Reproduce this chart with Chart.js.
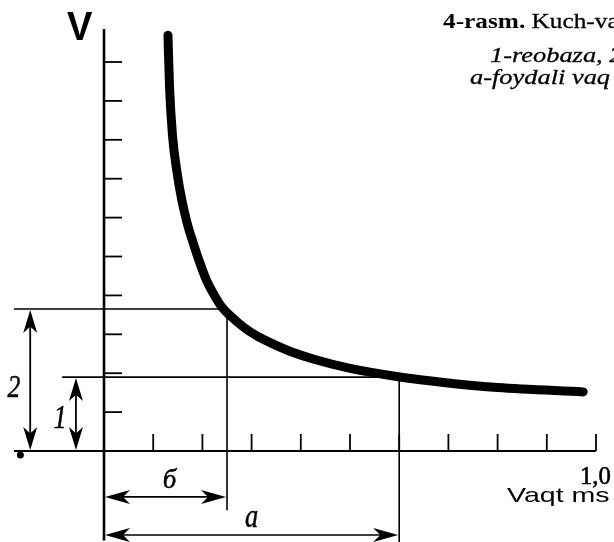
<!DOCTYPE html>
<html><head><meta charset="utf-8">
<script src="https://cdn.jsdelivr.net/npm/chart.js@4"></script>
<style>html,body{margin:0;padding:0;background:#fff;overflow:hidden}#wrap{width:614px;height:542px;position:relative}</style>
</head><body><div id="wrap"><canvas id="c" width="614" height="542"></canvas></div>
<script>
// ---- data ----
const timeMs  = [0.130, 0.133, 0.139, 0.149, 0.158, 0.169, 0.182, 0.195, 0.208, 0.224, 0.239, 0.259, 0.282, 0.309, 0.342, 0.379, 0.427, 0.498, 0.598, 0.699, 0.800, 0.974];
const voltage = [10.69, 9.42, 8.14, 7.12, 6.46, 5.86, 5.32, 4.83, 4.40, 4.01, 3.71, 3.45, 3.20, 2.97, 2.76, 2.56, 2.36, 2.13, 1.91, 1.75, 1.63, 1.52];
const xTickValues = [0.1, 0.2, 0.3, 0.4, 0.5, 0.6, 0.7, 0.8, 0.9, 1.0];
const yTickValues = [1, 2, 3, 4, 5, 6, 7, 8, 9, 10];
const xEndLabel = '1,0';
const rheobase = 1.9;          // level 1
const doubleRheobase = 3.65;   // level 2
const chronaxie = 0.25;        // б
const usefulTime = 0.6;        // a

// ---- layout (data-space extents of the drawing) ----
const geom = {
  xMin: -0.2114, xMax: 1.0366, yMin: -2.339, yMax: 11.594,
  yAxisTop: 10.85, yAxisBottom: -2.30, xAxisLeft: -0.183, xAxisRight: 1.0,
  line2Left: -0.183, line2Right: 0.234, line1Left: -0.085,
  chronTop: 3.5, chronBottom: -1.52, usefulBottom: -2.34,
  arrowB_y: -1.18, arrowA_y: -2.16, arrow2_x: -0.150, arrow1_x: -0.057
};

const pts = timeMs.map((t, i) => ({x: t, y: voltage[i]}));

function head(ctx, tx, ty, dx, dy, L, W) {
  const bx = tx - dx * L, by = ty - dy * L;
  const nx = -dy, ny = dx;
  const mx = tx - dx * L * 0.72, my = ty - dy * L * 0.72;
  ctx.beginPath();
  ctx.moveTo(tx, ty);
  ctx.lineTo(bx + nx * W, by + ny * W);
  ctx.lineTo(mx, my);
  ctx.lineTo(bx - nx * W, by - ny * W);
  ctx.closePath();
  ctx.fill();
}
function seg(ctx, x1, y1, x2, y2, w) {
  ctx.lineWidth = w; ctx.beginPath(); ctx.moveTo(x1, y1); ctx.lineTo(x2, y2); ctx.stroke();
}
function txt(ctx, s, x, y, font, sx, align, stroke) {
  ctx.save(); ctx.font = font; ctx.textAlign = align || 'left'; ctx.textBaseline = 'alphabetic';
  ctx.translate(x, y); ctx.scale(sx || 1, 1); ctx.fillText(s, 0, 0);
  if (stroke) { ctx.lineWidth = stroke; ctx.strokeStyle = '#000'; ctx.strokeText(s, 0, 0); }
  ctx.restore();
}

const SERIF = '"Liberation Serif", "Times New Roman", serif';
const SANS = '"Liberation Sans", Arial, sans-serif';

const drawing = {
  id: 'drawing',
  beforeDatasetsDraw(chart) {
    const ctx = chart.ctx, X = v => chart.scales.x.getPixelForValue(v), Y = v => chart.scales.y.getPixelForValue(v);
    ctx.save();
    ctx.strokeStyle = '#000'; ctx.fillStyle = '#000'; ctx.lineCap = 'butt';
    // axes
    seg(ctx, X(0), Y(geom.yAxisTop), X(0), Y(geom.yAxisBottom), 2.6);
    seg(ctx, X(geom.xAxisLeft), Y(0), X(geom.xAxisRight), Y(0), 2);
    // ticks
    yTickValues.forEach(v => seg(ctx, X(0), Y(v), X(0) + 18, Y(v), 1.8));
    xTickValues.forEach(v => seg(ctx, X(v), Y(0), X(v), Y(0) - 17, 1.8));
    // levels
    seg(ctx, X(geom.line2Left), Y(doubleRheobase), X(geom.line2Right), Y(doubleRheobase), 1.6);
    seg(ctx, X(geom.line1Left), Y(rheobase), X(usefulTime), Y(rheobase), 1.6);
    // verticals
    seg(ctx, X(chronaxie), Y(geom.chronTop), X(chronaxie), Y(geom.chronBottom), 1.6);
    seg(ctx, X(usefulTime), Y(rheobase), X(usefulTime), Y(geom.usefulBottom), 1.6);
    // horizontal double arrows
    const L = 25, W = 7;
    [[chronaxie, geom.arrowB_y], [usefulTime, geom.arrowA_y]].forEach(([xe, yy]) => {
      const y = Y(yy), x0 = X(0), x1 = X(xe);
      seg(ctx, x0 + 5, y, x1 - 5, y, 1.6);
      head(ctx, x0 + 1, y, -1, 0, L, W);
      head(ctx, x1 - 1, y, 1, 0, L, W);
    });
    // vertical double arrows
    [[geom.arrow2_x, doubleRheobase], [geom.arrow1_x, rheobase]].forEach(([xx, ye]) => {
      const x = X(xx), y0 = Y(0), y1 = Y(ye);
      seg(ctx, x, y1 + 5, x, y0 - 5, 1.8);
      head(ctx, x, y1 + 1, 0, -1, 23, 7);
      head(ctx, x, y0 - 1, 0, 1, 23, 7);
    });
    // stray dot
    ctx.beginPath(); ctx.arc(X(-0.170), Y(-0.10), 3.5, 0, Math.PI * 2); ctx.fill();
    ctx.restore();
  },
  afterDatasetsDraw(chart) {
    const ctx = chart.ctx, X = v => chart.scales.x.getPixelForValue(v), Y = v => chart.scales.y.getPixelForValue(v);
    ctx.save(); ctx.fillStyle = '#000';
    txt(ctx, 'V', 67, 40, 'bold 40px ' + SANS, 0.95);
    // caption
    ctx.font = 'bold 22px ' + SERIF;
    const w1 = ctx.measureText('4-rasm. ').width * 1.15;
    txt(ctx, '4-rasm.', 443, 28, 'bold 22px ' + SERIF, 1.15);
    txt(ctx, 'Kuch-va', 443 + w1, 28, '22px ' + SERIF, 1.15, 'left', 0.3);
    txt(ctx, '1-reobaza, 2', 490, 62, 'italic 22px ' + SERIF, 1.2, 'left', 0.3);
    txt(ctx, 'a-foydali vaq', 470, 84, 'italic 22px ' + SERIF, 1.2, 'left', 0.3);
    // axis labels
    txt(ctx, xEndLabel, X(1.0) - 16, 484, '26px ' + SERIF, 0.95, 'left', 0.6);
    txt(ctx, 'Vaqt ms', 507, 502, '21px ' + SANS, 1.36);
    // annotation letters
    txt(ctx, 'б', X(chronaxie / 2) + 4, 488, 'italic 27px ' + SERIF, 1, 'center', 0.5);
    txt(ctx, 'a', X(0.30), 527, 'italic 33px ' + SERIF, 0.8, 'center', 0.5);
    txt(ctx, '2', 14, 397, 'italic 32px ' + SERIF, 0.8, 'center', 0.5);
    txt(ctx, '1', 60, 428, 'italic 33px ' + SERIF, 0.8, 'center', 0.5);
    ctx.restore();
  }
};

new Chart(document.getElementById('c'), {
  type: 'line',
  data: { datasets: [{
    data: pts, borderColor: '#000', borderWidth: 9, borderCapStyle: 'round', borderJoinStyle: 'round',
    pointRadius: 0, cubicInterpolationMode: 'monotone', fill: false
  }]},
  options: {
    responsive: false, animation: false, devicePixelRatio: 1,
    layout: { padding: 0 },
    plugins: { legend: { display: false }, tooltip: { enabled: false } },
    scales: {
      x: { type: 'linear', min: geom.xMin, max: geom.xMax, display: false },
      y: { type: 'linear', min: geom.yMin, max: geom.yMax, display: false }
    }
  },
  plugins: [drawing]
});
</script>
</body></html>
